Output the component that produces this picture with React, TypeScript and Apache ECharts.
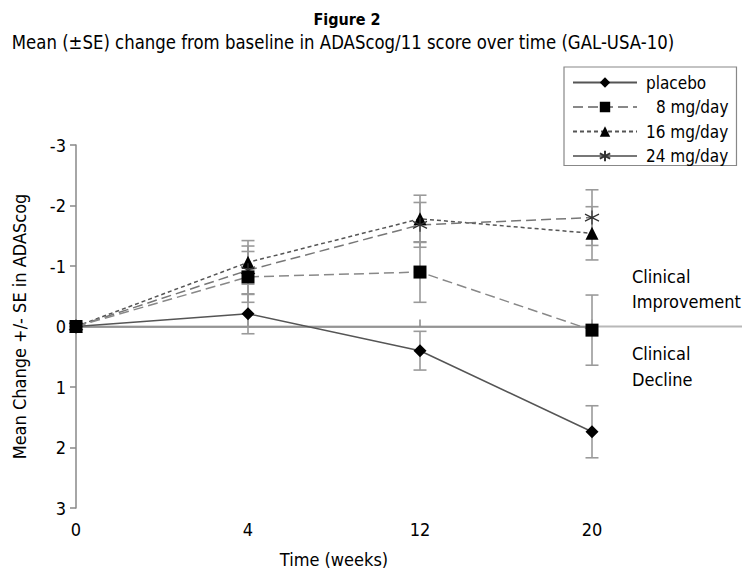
import React, { useEffect, useRef } from "react";
import * as echarts from "echarts";

const weeks = ["0", "4", "12", "20"];
const yTicks = [-3, -2, -1, 0, 1, 2, 3];

const placebo = [0, -0.21, 0.4, 1.74];
const placeboSE = [0, 0.33, 0.32, 0.43];
const mg8 = [0, -0.82, -0.9, 0.06];
const mg8SE = [0, 0.42, 0.5, 0.58];
const mg16 = [0, -1.06, -1.78, -1.54];
const mg16SE = [0, 0.36, 0.39, 0.44];
const mg24 = [0, -0.93, -1.68, -1.8];
const mg24SE = [0, 0.4, 0.37, 0.46];

const FONT = "'DejaVu Sans Condensed', 'Liberation Sans Narrow', sans-serif";

const starPath = "path://M5,0L5,10M0.7,2.5L9.3,7.5M0.7,7.5L9.3,2.5";

function errData(means: number[], ses: number[]) {
  const out: number[][] = [];
  means.forEach((m, i) => {
    if (ses[i] > 0) out.push([i, m - ses[i], m + ses[i]]);
  });
  return out;
}

function errSeries(name: string, means: number[], ses: number[]) {
  return {
    type: "custom",
    name: name + "-err",
    z: 1,
    silent: true,
    encode: { x: 0, y: [1, 2] },
    data: errData(means, ses),
    renderItem: (params: any, api: any) => {
      const lo = api.coord([api.value(0), api.value(1)]);
      const hi = api.coord([api.value(0), api.value(2)]);
      const w = 6.5;
      const st = { stroke: "#9a9a9a", lineWidth: 1.6 };
      return {
        type: "group",
        children: [
          { type: "line", shape: { x1: lo[0], y1: lo[1], x2: hi[0], y2: hi[1] }, style: st },
          { type: "line", shape: { x1: lo[0] - w, y1: lo[1], x2: lo[0] + w, y2: lo[1] }, style: st },
          { type: "line", shape: { x1: hi[0] - w, y1: hi[1], x2: hi[0] + w, y2: hi[1] }, style: st },
        ],
      };
    },
  };
}

export default function App() {
  const ref = useRef<HTMLDivElement>(null);
  useEffect(() => {
    document.body.style.margin = "0";
    const chart = echarts.init(ref.current!, null, { renderer: "svg" });
    const option: any = {
      animation: false,
      backgroundColor: "#ffffff",
      textStyle: { fontFamily: FONT, color: "#000" },
      legend: {
        orient: "vertical",
        left: 564,
        top: 67,
        padding: [7, 8, 1, 8],
        itemWidth: 64,
        itemHeight: 13,
        itemGap: 7.5,
        borderColor: "#888",
        borderWidth: 1.2,
        backgroundColor: "#fff",
        textStyle: {
          fontFamily: FONT,
          fontSize: 17,
          lineHeight: 14,
          color: "#000",
          padding: [0, 0, 0, 4],
          rich: { p: { width: 10, fontSize: 17, lineHeight: 14 } },
        },
        formatter: (name: string) => (name === "8 mg/day" ? "{p|}" + name : name),
        data: [
          { name: "placebo" },
          { name: "8 mg/day" },
          { name: "16 mg/day" },
          { name: "24 mg/day", lineStyle: { type: "solid", color: "#777" } },
        ],
      },
      grid: { left: 76, right: 150, top: 145, bottom: 68 },
      xAxis: {
        type: "category",
        data: weeks,
        boundaryGap: false,
        name: "Time (weeks)",
        nameLocation: "middle",
        nameGap: 42,
        nameTextStyle: { fontFamily: FONT, fontSize: 18, color: "#000" },
        axisLine: { lineStyle: { color: "#888", width: 1.5 } },
        axisTick: { inside: true, length: 7, lineStyle: { color: "#888", width: 1.5 } },
        axisLabel: { fontFamily: FONT, fontSize: 18, color: "#000", margin: 12 },
        splitLine: { show: false },
      },
      yAxis: {
        type: "value",
        inverse: true,
        min: yTicks[0],
        max: yTicks[yTicks.length - 1],
        interval: 1,
        name: "Mean Change +/- SE in ADAScog",
        nameLocation: "middle",
        nameGap: 48,
        nameTextStyle: { fontFamily: FONT, fontSize: 18, color: "#000" },
        axisLine: { show: true, lineStyle: { color: "#888", width: 1.5 } },
        axisTick: { show: true, length: 6, lineStyle: { color: "#888", width: 1.5 } },
        axisLabel: { fontFamily: FONT, fontSize: 18, color: "#000", margin: 10 },
        splitLine: { show: false },
      },
      series: [
        errSeries("placebo", placebo, placeboSE),
        errSeries("8 mg/day", mg8, mg8SE),
        errSeries("16 mg/day", mg16, mg16SE),
        errSeries("24 mg/day", mg24, mg24SE),
        {
          name: "placebo",
          type: "line",
          data: placebo,
          z: 3,
          symbol: "diamond",
          symbolSize: 13,
          itemStyle: { color: "#000" },
          lineStyle: { color: "#555", width: 1.5, type: "solid" },
        },
        {
          name: "16 mg/day",
          type: "line",
          data: mg16,
          z: 3,
          symbol: "triangle",
          symbolSize: 13,
          itemStyle: { color: "#000" },
          lineStyle: { color: "#555", width: 1.5, type: [4, 3] },
        },
        {
          name: "24 mg/day",
          type: "line",
          data: mg24,
          z: 3,
          symbol: starPath,
          symbolSize: 14,
          itemStyle: { color: "none", borderColor: "#333", borderWidth: 1.2 },
          lineStyle: { color: "#777", width: 1.5, type: [10, 5] },
        },
        {
          name: "8 mg/day",
          type: "line",
          data: mg8,
          z: 4,
          symbol: "rect",
          symbolSize: 13,
          itemStyle: { color: "#000" },
          lineStyle: { color: "#888", width: 1.5, type: [10, 5] },
        },
      ],
    };
    chart.setOption(option);
    const y0 = chart.convertToPixel({ yAxisIndex: 0 }, 0) as number;
    const x0 = chart.convertToPixel({ xAxisIndex: 0 }, 0) as number;
    chart.setOption({
      graphic: [
        {
          type: "text",
          x: 347,
          y: 19,
          style: {
            text: "Figure 2",
            align: "center",
            verticalAlign: "middle",
            fontFamily: FONT,
            fontSize: 16,
            fontWeight: "bold",
            fill: "#000",
          },
        },
        {
          type: "text",
          x: 343,
          y: 42,
          scaleX: 0.92,
          style: {
            text: "Mean (±SE) change from baseline in ADAScog/11 score over time (GAL-USA-10)",
            align: "center",
            verticalAlign: "middle",
            fontFamily: FONT,
            fontSize: 20,
            fill: "#000",
          },
        },
        {
          type: "line",
          z: 0,
          shape: { x1: x0, y1: y0, x2: 742, y2: y0 },
          style: { stroke: "#b8b8b8", lineWidth: 2 },
        },
        {
          type: "text",
          left: 632,
          top: y0 - 63,
          style: {
            text: "Clinical\nImprovement",
            fontFamily: FONT,
            fontSize: 18,
            lineHeight: 25,
            fill: "#000",
          },
        },
        {
          type: "text",
          left: 632,
          top: y0 + 14,
          style: {
            text: "Clinical\nDecline",
            fontFamily: FONT,
            fontSize: 18,
            lineHeight: 26,
            fill: "#000",
          },
        },
      ],
    });
    return () => chart.dispose();
  }, []);
  return <div ref={ref} style={{ width: 742, height: 576 }} />;
}
